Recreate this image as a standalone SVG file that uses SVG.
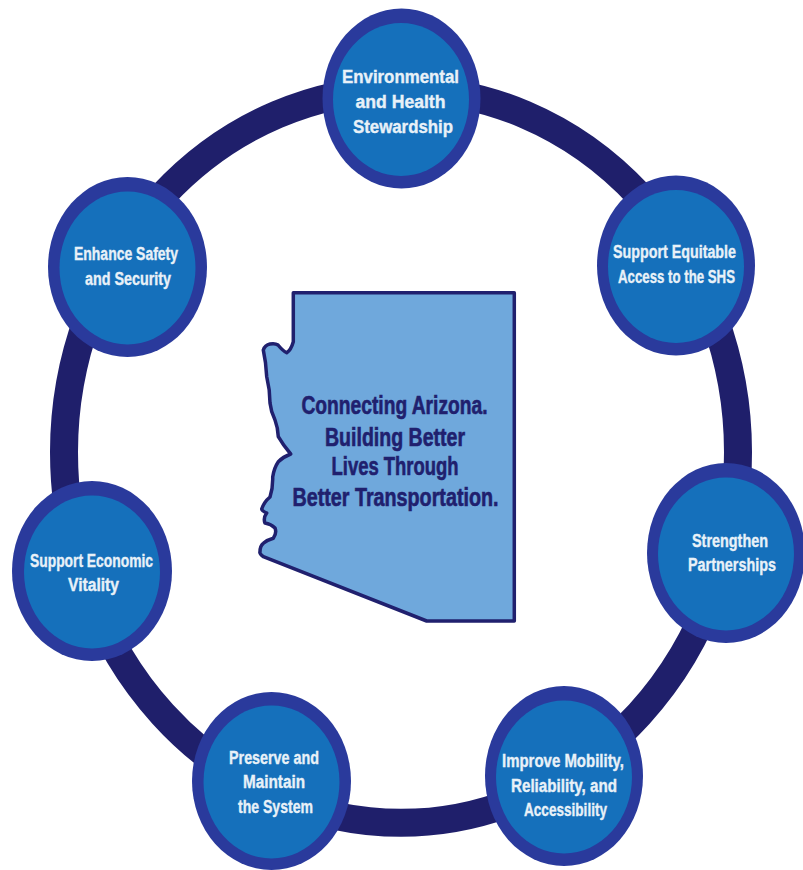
<svg xmlns="http://www.w3.org/2000/svg" width="803" height="870" viewBox="0 0 803 870">
<style>
.o{fill:#2a3a9c}
.i{fill:#1570bb}
text{font-family:"Liberation Sans",Arial,sans-serif;font-weight:700}
.n{font-size:17.5px;fill:#e8f1f8;stroke:#e8f1f8;stroke-width:.35px}
.c{font-size:25px;fill:#20206e;stroke:#20206e;stroke-width:.6px}
</style>
<rect width="803" height="870" fill="#ffffff"/>
<g id="connectors"><path d="M64 452A337 363 0 0 1 738 452A337 371 0 0 1 64 452Z" fill="none" stroke="#1f1f6b" stroke-width="28"/></g>
<g id="arizona">
<path d="M293.3 292.7H514.3V621H426.7L263.3 556.7Q259 553 260 551.7Q260 546 263.3 543.3Q267 540 273.3 538.3Q277 533 275 528Q271 524 265 523Q263 518 266.7 513Q262 511 261.7 509Q264 502 270 497Q273 488 272.7 477Q274 468 278.3 461.7Q283 457 290.7 454Q283 445 278.3 436.7Q278 428 275 420Q271 412 270 403Q270 390 266.7 376.7Q266 362 263.3 350Q265 345 270 344Q275 343 278 345Q283 351 286.7 352.7Q291 350 293.3 341.7Z" fill="#6fa8dc" stroke="#20206e" stroke-width="3.5" stroke-linejoin="round"/>
<text class="c" x="301.5" y="414" textLength="186" lengthAdjust="spacingAndGlyphs">Connecting Arizona.</text>
<text class="c" x="325" y="445.5" textLength="140" lengthAdjust="spacingAndGlyphs">Building Better</text>
<text class="c" x="331.5" y="475" textLength="127" lengthAdjust="spacingAndGlyphs">Lives Through</text>
<text class="c" x="292.5" y="506" textLength="206" lengthAdjust="spacingAndGlyphs">Better Transportation.</text>
</g>
<g id="node-environmental"><ellipse class="o" cx="401.5" cy="98.5" rx="79" ry="90"/><ellipse class="i" cx="401" cy="99.5" rx="68" ry="76.5"/>
<text class="n" x="342" y="83" textLength="117" lengthAdjust="spacingAndGlyphs">Environmental</text>
<text class="n" x="355.5" y="108" textLength="90" lengthAdjust="spacingAndGlyphs">and Health</text>
<text class="n" x="353" y="133" textLength="100" lengthAdjust="spacingAndGlyphs">Stewardship</text></g>
<g id="node-equitable"><ellipse class="o" cx="676" cy="265.5" rx="79" ry="90"/><ellipse class="i" cx="676" cy="266.5" rx="68" ry="76.5"/>
<text class="n" x="613" y="258" textLength="123" lengthAdjust="spacingAndGlyphs">Support Equitable</text>
<text class="n" x="618" y="283" textLength="117" lengthAdjust="spacingAndGlyphs">Access to the SHS</text></g>
<g id="node-partnerships"><ellipse class="o" cx="726" cy="553" rx="79" ry="90"/><ellipse class="i" cx="726" cy="554" rx="68" ry="76.5"/>
<text class="n" x="692" y="547" textLength="76" lengthAdjust="spacingAndGlyphs">Strengthen</text>
<text class="n" x="688" y="571" textLength="88" lengthAdjust="spacingAndGlyphs">Partnerships</text></g>
<g id="node-mobility"><ellipse class="o" cx="564" cy="776" rx="79" ry="90"/><ellipse class="i" cx="564" cy="777" rx="68" ry="76.5"/>
<text class="n" x="502" y="767" textLength="122" lengthAdjust="spacingAndGlyphs">Improve Mobility,</text>
<text class="n" x="511" y="792" textLength="106" lengthAdjust="spacingAndGlyphs">Reliability, and</text>
<text class="n" x="524" y="816" textLength="83" lengthAdjust="spacingAndGlyphs">Accessibility</text></g>
<g id="node-preserve"><ellipse class="o" cx="271.5" cy="781" rx="79.5" ry="89"/><ellipse class="i" cx="271.5" cy="782" rx="68" ry="76.5"/>
<text class="n" x="229" y="764" textLength="90" lengthAdjust="spacingAndGlyphs">Preserve and</text>
<text class="n" x="243" y="788" textLength="62" lengthAdjust="spacingAndGlyphs">Maintain</text>
<text class="n" x="238" y="813" textLength="75" lengthAdjust="spacingAndGlyphs">the System</text></g>
<g id="node-economic"><ellipse class="o" cx="92" cy="571" rx="80" ry="90"/><ellipse class="i" cx="92" cy="572" rx="68" ry="76.5"/>
<text class="n" x="30" y="567" textLength="123" lengthAdjust="spacingAndGlyphs">Support Economic</text>
<text class="n" x="68" y="591" textLength="51" lengthAdjust="spacingAndGlyphs">Vitality</text></g>
<g id="node-safety"><ellipse class="o" cx="127.5" cy="267" rx="79.5" ry="90"/><ellipse class="i" cx="127.5" cy="268" rx="68" ry="76.5"/>
<text class="n" x="74" y="260" textLength="104" lengthAdjust="spacingAndGlyphs">Enhance Safety</text>
<text class="n" x="85" y="285" textLength="86" lengthAdjust="spacingAndGlyphs">and Security</text></g>
</svg>
